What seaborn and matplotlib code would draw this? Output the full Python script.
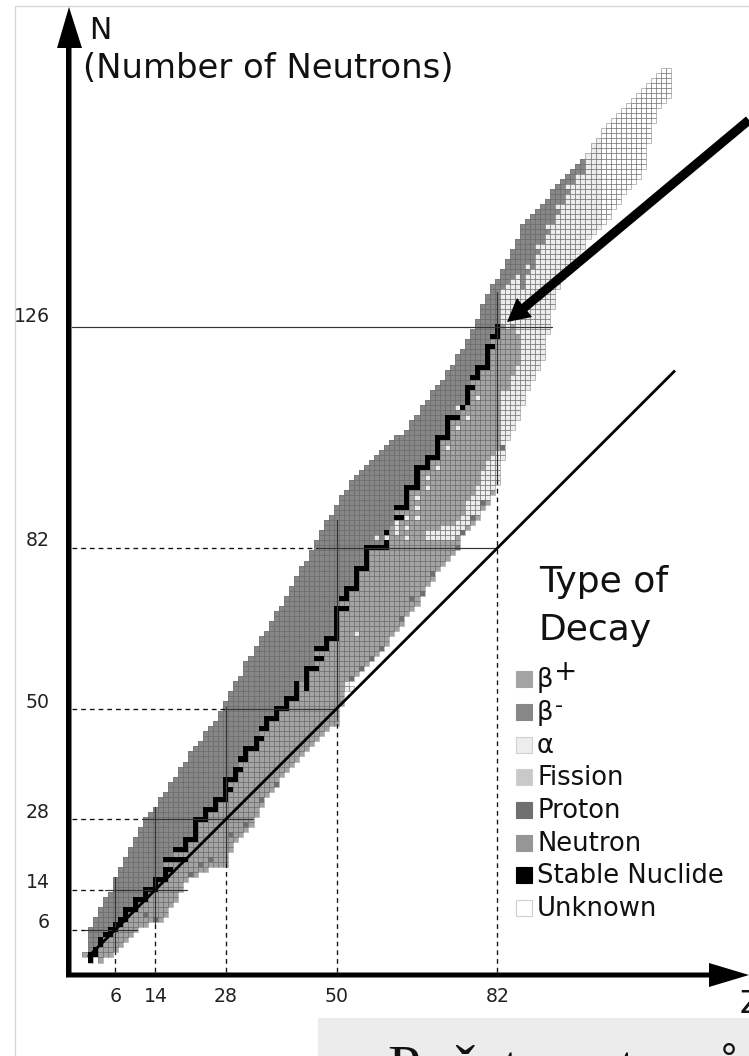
import numpy as np
import pandas as pd
import matplotlib
matplotlib.use("Agg")
import matplotlib.pyplot as plt
from matplotlib.collections import LineCollection
from matplotlib.colors import ListedColormap
from matplotlib.patches import Polygon, Rectangle
from matplotlib.transforms import Affine2D, blended_transform_factory
import seaborn as sns

# upper and lower N of the nuclide band for Z = 0..116
n_top = [1,
 6,8,10,12,13,16,18,20,22,24,
 26,28,29,30,32,33,35,36,38,39,
 41,42,43,45,46,47,49,51,53,55,
 56,59,60,62,64,65,67,69,70,72,
 74,76,78,79,81,83,85,87,88,90,
 92,93,95,96,97,98,99,100,101,102,
 103,104,104,105,107,108,110,111,113,114,
 115,117,118,120,121,123,125,127,130,132,
 134,135,137,139,141,143,146,147,148,149,
 150,151,153,154,155,156,157,158,159,160,
 162,163,165,166,167,168,169,170,171,172,
 173,174,175,176,177,177]
n_bot = [1,
 0,1,0,1,1,2,3,4,5,6,
 7,7,8,8,8,9,11,12,14,16,
 17,17,18,18,19,19,19,19,22,24,
 25,26,27,29,31,33,34,35,37,38,
 39,40,41,42,43,44,45,46,47,47,
 51,54,56,57,58,59,60,61,62,63,
 65,66,67,69,70,71,73,75,76,78,
 79,80,81,83,85,86,87,88,90,91,
 93,95,100,104,106,108,111,114,116,118,
 120,125,130,134,136,137,139,141,142,144,
 145,146,147,148,150,151,153,154,155,156,
 158,163,167,170,171,172]

stable_n = {1:[0,1],2:[1,2],3:[3,4],4:[5],5:[5,6],6:[6,7],7:[7,8],8:[8,9,10],9:[10],10:[10,11,12],
 11:[12],12:[12,13,14],13:[14],14:[14,15,16],15:[16],16:[16,17,18,20],17:[18,20],18:[20,22],19:[20,22],
 20:[20,22,23,24],21:[24],22:[24,25,26,27,28],23:[28],24:[28,29,30],25:[30],26:[30,31,32],27:[32],
 28:[32,33,34,35,36],29:[34,36],30:[36,37,38],31:[38,40],32:[40,41,42],33:[42],34:[42,43,44],
 35:[44,46],36:[46,47,48],37:[48],38:[48,49,50],39:[50],40:[50,51,52],41:[52],
 42:[52,53,54,55],44:[54,55,56,57,58],45:[58],46:[58,60,62],47:[60,62],
 48:[62,63,64],49:[64],50:[64,65,66,67,68,69,70],51:[70,72],52:[70,72,73,74],
 53:[74],54:[74,75,76,77,78],55:[78],56:[78,79,80,81,82],57:[82],58:[82],59:[82],
 60:[82,83,85],62:[88,90],63:[88,90],64:[90,91,92,93,94],65:[94],
 66:[94,95,96,97,98],67:[98],68:[98,99,100],69:[100],70:[100,101,102,103,104],71:[104],
 72:[104,105,106,107,108],73:[108],74:[108],75:[110],76:[111,112,113,114],77:[114,116],
 78:[116,117,118],79:[118],80:[118,119,120,121,122],81:[122,124],82:[124,125,126]}

# top of the beta+ zone where no stable nuclide marks it
split_extra = {0:1,43:55,61:86,83:127,84:128,85:129,86:131,87:133,88:136,89:137,90:140,91:142,92:144,
 93:146,94:148,95:150,96:152,97:154,98:155,99:156}

alpha_ranges = {68:[(84,85)],69:[(84,85)],70:[(84,85)],71:[(84,86)],72:[(84,86)],73:[(84,86)],74:[(85,87)],
 75:[(86,88)],76:[(87,91)],77:[(88,92)],78:[(89,94)],79:[(91,97)],80:[(92,99)],81:[(94,100)],82:[(95,101)],
 83:[(100,113),(127,133)],84:[(104,114),(126,134)],85:[(106,116),(127,135)],86:[(108,118),(125,136)],
 87:[(111,133)],88:[(114,136)],89:[(116,137)],90:[(118,140)],91:[(120,142)],92:[(125,144)],93:[(130,146)],
 94:[(134,148)],95:[(136,150)],96:[(137,152)],97:[(139,154)],98:[(141,155)],99:[(142,156)],
 100:[(144,160)],101:[(145,162)],102:[(146,163)]}
unknown_z = [103,104,105,106,107,108,109,110,111,112,113,114,115,116]

alpha_dots = [(74,106),(74,110),(72,102),(70,98),(68,96),(68,94),(66,92),(66,90),(64,88),(66,88),(62,85),(62,86),
 (62,87),(64,86),(64,84),(58,84),(60,84),(54,65),(52,54),(53,54),(52,55),(78,112),(76,108),(92,146),(94,150),
 (90,142),(88,138),(86,136),(98,156),(96,154)]
proton_dots = [(74,82),(75,85),(77,88),(79,91),(83,102),(69,77),(67,73),(65,72),(63,68),(59,62),(57,60),(55,58),
 (53,56),(32,27),(29,25),(35,32),(38,35),(25,20),(23,19),(21,17),(14,8),(12,9)]
beta_plus_dots = [(84,124),(86,122),(84,114)]

magic_numbers = [6, 14, 28, 50, 82]
z_line_dash_top = [1.4, 7.4, 19.5, 47.8, 95.5]
z_line_solid_top = [16.5, 30.4, 50.3, 87.6, 133]
n_magic_numbers = [6, 14, 28, 50, 82, 126]
n_line_dash_end = [0, 4, 11.3, 28, 46.3, -2.6]
n_line_solid_end = [10.4, 20.3, 33.4, 50, 82, 92.8]

decay_labels = ["β", "β", "α", "Fission", "Proton", "Neutron", "Stable Nuclide", "Unknown"]
decay_colors = ["#A4A4A4", "#878787", "#EDEDED", "#C9C9C9", "#707070", "#969696", "#000000", "#FFFFFF"]

BETA_PLUS, BETA_MINUS, ALPHA, FISSION, PROTON, NEUTRON, STABLE, UNKNOWN = range(8)

n_rows = 180
n_cols = len(n_top)
grid = np.full((n_rows, n_cols), np.nan)
stable_grid = np.full((n_rows, n_cols), np.nan)
for z in range(n_cols):
    split = max(stable_n[z]) if z in stable_n else n_top[z]
    if z in split_extra:
        split = split_extra[z]
    for n in range(n_bot[z], n_top[z] + 1):
        grid[n, z] = BETA_PLUS if n <= split else BETA_MINUS
    for lo, hi in alpha_ranges.get(z, []):
        grid[lo:hi + 1, z] = ALPHA
    if z in unknown_z:
        grid[n_bot[z]:n_top[z] + 1, z] = UNKNOWN
for z, n in alpha_dots:
    grid[n, z] = ALPHA
for z, n in proton_dots:
    grid[n, z] = PROTON
for z, n in beta_plus_dots:
    grid[n, z] = BETA_PLUS
for z, ns in stable_n.items():
    for n in ns:
        stable_grid[n, z] = 1.0

W, H = 749, 1056
sns.set_theme(style="white")
plt.rcParams["font.family"] = ["DejaVu Sans"]
fig = plt.figure(figsize=(W / 100, H / 100), dpi=100, facecolor="white")
ax = fig.add_axes([0, 0, 1, 1])

sns.heatmap(pd.DataFrame(grid), ax=ax, cmap=ListedColormap(decay_colors), vmin=-0.5, vmax=7.5, cbar=False,
            linewidths=0, xticklabels=False, yticklabels=False)
# cell outlines only around occupied cells
segs = []
for n, z in zip(*np.where(~np.isnan(grid))):
    segs.append([(z, n), (z + 1, n)])
    segs.append([(z, n + 1), (z + 1, n + 1)])
    segs.append([(z, n), (z, n + 1)])
    segs.append([(z + 1, n), (z + 1, n + 1)])
ax.add_collection(LineCollection(segs, colors="#6a6a6a", linewidths=0.4, alpha=0.8, zorder=2))
sns.heatmap(pd.DataFrame(stable_grid), ax=ax, cmap=ListedColormap(["#000000"]), vmin=0, vmax=2, cbar=False,
            linewidths=0, xticklabels=False, yticklabels=False)
ax.collections[-1].set_zorder(3)
ax.set_xlim(-82.5 / 5.03, (W - 82.5) / 5.03)
ax.set_ylim((962.5 - H) / 5.025, 962.5 / 5.025)
ax.set_xlabel(""); ax.set_ylabel("")
ax.set_axis_off()

tr = Affine2D().scale(1 / W, -1 / H).translate(0, 1) + fig.transFigure
x_tr = blended_transform_factory(ax.transData, tr)

# magic number guide lines (Z, N are shifted to the cell centres)
AX_Z, AX_N = -2.6, -2.4
dash = dict(color="#111111", lw=0.95, ls=(0, (3.6, 3)), zorder=4)
solid = dict(color="#333333", lw=0.85, zorder=4)
for z, d, s in zip(magic_numbers, z_line_dash_top, z_line_solid_top):
    ax.plot([z + .5, z + .5], [AX_N + .5, d + .5], **dash)
    ax.plot([z + .5, z + .5], [d + .5, s + .5], **solid)
for n, d, s in zip(n_magic_numbers, n_line_dash_end, n_line_solid_end):
    if d > AX_Z:
        ax.plot([AX_Z + .5, d + .5], [n + .5, n + .5], **dash)
    ax.plot([d + .5, s + .5], [n + .5, n + .5], **solid)
# N = Z line
diag = [0.6, 117.3]
ax.plot([diag[0] + .5, diag[1] + .5], [diag[0] + .5, diag[1] + .5], color="black", lw=2.0, zorder=5,
        solid_capstyle="butt")

# page furniture
fig.add_artist(plt.Line2D([15, 15], [6, H], transform=tr, color="#d4d4d4", lw=0.9))
fig.add_artist(plt.Line2D([15, W], [6, 6], transform=tr, color="#d4d4d4", lw=0.9))

def poly(pts, **kw):
    ax.add_patch(Polygon(pts, closed=True, transform=tr, clip_on=False, facecolor="black", edgecolor="none", zorder=6, **kw))

# axes with arrows
poly([(66, 975), (71.5, 975), (71.5, 48), (82, 48), (69, 7), (57, 48), (66, 48)])
poly([(66, 972.5), (709, 972.5), (709, 963), (749, 975), (709, 987), (709, 977.5), (66, 977.5)])
# big arrow
poly([(746, 116.5), (752, 123.5), (527.4, 311), (532, 317), (507, 322), (517, 298), (521.6, 304)])

tk = dict(color="#222222", fontsize=13.6, ha="center", va="center", zorder=7)
for z in magic_numbers:
    ax.text(z + .5, 997, str(z), transform=x_tr, **tk)
y_label_px = [923, 883, 813, 703, 541, 316]
for n, y in zip(n_magic_numbers, y_label_px):
    ax.text(50, y, str(n), transform=tr, **{**tk, "ha": "right"})

ax.text(89, 39, "N", transform=tr, fontsize=21.5, color="#111111", va="baseline", zorder=7)
ax.text(83, 78, "(Number of Neutrons)", transform=tr, fontsize=24.4, color="#111111", va="baseline", zorder=7)
ax.text(740, 1013, "Z", transform=tr, fontsize=23, color="#111111", va="baseline", zorder=7, clip_on=True)

ax.text(539, 592, "Type of", transform=tr, fontsize=26, color="#111111", va="baseline")
ax.text(539, 640, "Decay", transform=tr, fontsize=26, color="#111111", va="baseline")

legend_y = [679, 712, 745, 777, 810, 843, 875, 908]
for y, lab, c in zip(legend_y, decay_labels, decay_colors):
    ax.add_patch(Rectangle((516, y - 8), 16, 16, transform=tr, facecolor=c,
                           edgecolor="#d0d0d0" if c in ("#FFFFFF", "#EDEDED", "#C9C9C9") else c, lw=0.8))
    ax.text(537, y + 8, lab, transform=tr, fontsize=18.6, color="#111111", va="baseline")
ax.text(554, 680, "+", transform=tr, fontsize=20, color="#111111", va="baseline")
ax.text(555, 712, "-", transform=tr, fontsize=16, color="#111111", va="baseline")

# cropped caption panel
ax.add_patch(Rectangle((318, 1018), W - 318, H - 1018, transform=tr, facecolor="#ececec", edgecolor="none", zorder=8))
ax.text(388, 1086, "Počet neutronů", transform=tr, fontsize=42.5, color="#111111", va="baseline",
        family="Liberation Serif", zorder=9)

fig.savefig("out.png", dpi=100)
